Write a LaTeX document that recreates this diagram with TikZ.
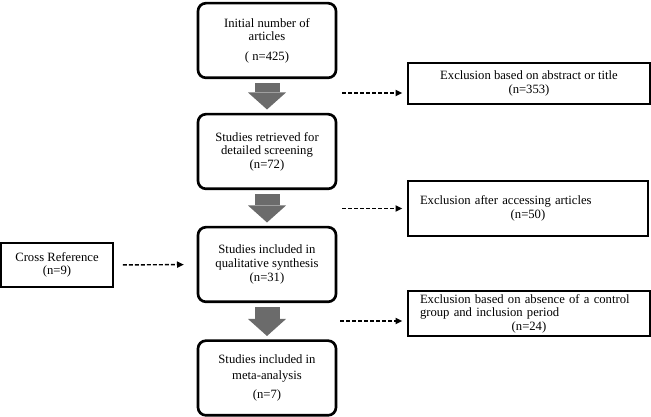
\documentclass[tikz,border=0pt]{standalone}
\usepackage{fontspec}
\setmainfont{Liberation Serif}
\usetikzlibrary{arrows.meta,positioning,calc}

\definecolor{blockgray}{gray}{0.42}

\begin{document}
\begin{tikzpicture}[
    x=0.75pt, y=-0.75pt,
    stage/.style={draw, line width=2pt, rounded corners=6pt, align=center,
                  minimum width=103.5pt, minimum height=56pt, inner sep=2pt,
                  font=\fontsize{9.5pt}{10.2pt}\selectfont},
    side/.style={draw, line width=1.2pt, inner ysep=2pt,
                 font=\fontsize{9.5pt}{10.2pt}\selectfont},
    fatarrow/.style={draw=blockgray, line width=18.75pt,
                     -{Triangle[length=12.75pt, width=28.5pt, line width=0pt]},
                     shorten <=3pt, shorten >=2.5pt},
    dashflow/.style={line width=1.05pt, dash pattern=on 3pt off 1.5pt,
                     -{Triangle[length=5pt, width=5pt, line width=0pt]}},
]
\useasboundingbox (0,0) rectangle (651,417);

% === Main stages (centre column) ===
\node[stage] (init) at (267,40.5)  {Initial number of\\articles\\[4.5pt]( n=425)};
\node[stage] (retr) at (267,151.5) {Studies retrieved for\\detailed screening\\(n=72)};
\node[stage] (qual) at (267,264.5) {Studies included in\\qualitative synthesis\\(n=31)};
\node[stage] (meta) at (267,378)   {Studies included in\\[1.5pt]meta-analysis\\[4.5pt](n=7)};

% === Side boxes ===
\node[side, align=center, minimum width=84pt, minimum height=33pt] (cross) at (57,265)
  {Cross Reference\\(n=9)};
\node[side, align=center, minimum width=181.5pt, minimum height=30.75pt] (ex1) at (529,83.5)
  {Exclusion based on abstract or title\\(n=353)};
\node[side, text width=162pt, inner xsep=9pt, minimum height=41.25pt] (ex2) at (528,208.5)
  {Exclusion after accessing articles\par\centering(n=50)\par\vspace*{10pt}};
\node[side, text width=163.5pt, inner xsep=9pt, minimum height=33.75pt] (ex3) at (529,313.5)
  {Exclusion based on absence of a control\\group and inclusion period\par\centering(n=24)\par};

% === Start points of the dashed arrows ===
\coordinate (g1) at (342,93);
\coordinate (g2) at (342,208.5);
\coordinate (g3) at (340,321);

% === Block arrows between stages ===
\foreach \a/\b in {init/retr,retr/qual,qual/meta}
  \draw[fatarrow] (\a.south) -- (\b.north);

% === Dashed arrows to the exclusions ===
\foreach \g/\e in {g1/ex1,g2/ex2,g3/ex3}
  \draw[dashflow, shorten >=3.75pt] (\g) -- (\g -| \e.west);

% === Cross reference into synthesis ===
\draw[dashflow, shorten <=6.75pt, shorten >=9.75pt] (cross.east) -- (qual.west);

\end{tikzpicture}
\end{document}
